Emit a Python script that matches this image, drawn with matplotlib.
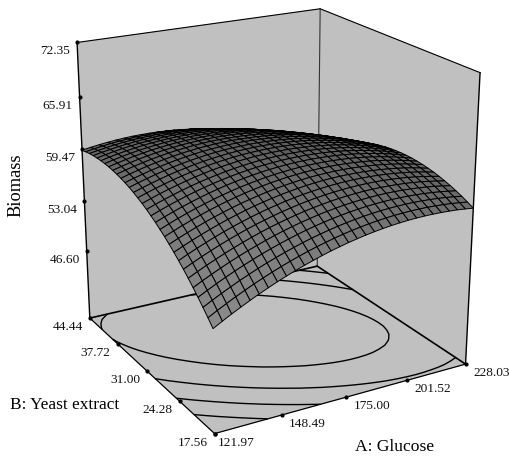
import numpy as np
import matplotlib
matplotlib.use('Agg')
import matplotlib.pyplot as plt
from mpl_toolkits.mplot3d import proj3d
from mpl_toolkits.mplot3d.art3d import Poly3DCollection

plt.rcParams['font.family'] = ['Liberation Serif', 'DejaVu Serif']

a_ticks = [121.97, 148.49, 175.00, 201.52, 228.03]
b_ticks = [17.56, 24.28, 31.00, 37.72, 44.44]
z_ticks = [46.60, 53.04, 59.47, 65.91, 72.35]
z_floor = 37.672
contour_levels = [52.95, 55.25, 57.45, 59.68]

# Biomass: one row per Yeast extract step (low to high),
# one column per Glucose step (low to high)
biomass = [
[49.85,50.43,50.99,51.52,52.03,52.52,52.98,53.42,53.83,54.22,54.58,54.92,55.24,55.54,55.80,56.05,56.27,56.47,56.64,56.79,56.92,57.02,57.10,57.15,57.18,57.18,57.16,57.12,57.06,56.96,56.85],
[50.62,51.19,51.73,52.25,52.74,53.22,53.66,54.09,54.49,54.86,55.21,55.54,55.84,56.12,56.38,56.61,56.82,57.00,57.16,57.30,57.41,57.50,57.56,57.60,57.62,57.61,57.57,57.52,57.44,57.33,57.20],
[51.35,51.91,52.44,52.94,53.43,53.88,54.32,54.73,55.11,55.47,55.81,56.13,56.42,56.68,56.92,57.14,57.33,57.50,57.65,57.77,57.87,57.94,57.99,58.02,58.02,58.00,57.95,57.88,57.79,57.67,57.53],
[52.06,52.60,53.12,53.61,54.08,54.52,54.94,55.34,55.71,56.06,56.38,56.68,56.96,57.21,57.44,57.64,57.82,57.98,58.11,58.22,58.30,58.36,58.40,58.41,58.40,58.36,58.30,58.22,58.11,57.98,57.82],
[52.73,53.26,53.76,54.24,54.70,55.13,55.53,55.91,56.27,56.61,56.92,57.20,57.47,57.70,57.92,58.11,58.27,58.42,58.53,58.63,58.70,58.75,58.77,58.77,58.74,58.69,58.62,58.52,58.40,58.25,58.08],
[53.38,53.89,54.38,54.84,55.28,55.70,56.09,56.46,56.81,57.13,57.42,57.69,57.94,58.17,58.37,58.54,58.70,58.83,58.93,59.01,59.07,59.10,59.11,59.09,59.05,58.99,58.90,58.79,58.65,58.49,58.31],
[53.99,54.49,54.96,55.41,55.84,56.24,56.62,56.98,57.31,57.61,57.90,58.16,58.39,58.60,58.79,58.95,59.09,59.20,59.29,59.36,59.40,59.42,59.42,59.39,59.33,59.26,59.16,59.03,58.88,58.71,58.51],
[54.57,55.06,55.52,55.95,56.37,56.76,57.12,57.46,57.78,58.07,58.34,58.58,58.81,59.00,59.18,59.32,59.45,59.55,59.63,59.68,59.71,59.71,59.69,59.65,59.58,59.49,59.38,59.24,59.08,58.89,58.68],
[55.12,55.59,56.04,56.46,56.86,57.24,57.59,57.91,58.22,58.50,58.75,58.98,59.19,59.37,59.53,59.67,59.78,59.87,59.93,59.97,59.98,59.97,59.94,59.88,59.80,59.70,59.57,59.42,59.24,59.04,58.81],
[55.64,56.10,56.53,56.94,57.33,57.69,58.02,58.34,58.63,58.89,59.13,59.35,59.54,59.71,59.86,59.98,60.08,60.15,60.20,60.23,60.23,60.20,60.16,60.09,59.99,59.87,59.73,59.56,59.37,59.16,58.92],
[56.13,56.57,56.99,57.39,57.76,58.11,58.43,58.73,59.00,59.26,59.48,59.69,59.87,60.02,60.15,60.26,60.34,60.40,60.44,60.45,60.44,60.40,60.34,60.26,60.15,60.02,59.86,59.68,59.48,59.25,58.99],
[56.58,57.01,57.42,57.80,58.16,58.49,58.80,59.09,59.35,59.59,59.80,59.99,60.16,60.30,60.42,60.51,60.58,60.63,60.65,60.65,60.62,60.57,60.50,60.40,60.28,60.13,59.96,59.76,59.55,59.30,59.04],
[57.01,57.43,57.82,58.19,58.53,58.85,59.15,59.42,59.67,59.89,60.09,60.27,60.42,60.55,60.65,60.73,60.79,60.82,60.83,60.81,60.77,60.71,60.62,60.51,60.37,60.21,60.03,59.82,59.59,59.33,59.05],
[57.40,57.81,58.18,58.54,58.87,59.18,59.46,59.72,59.95,60.16,60.35,60.51,60.65,60.76,60.85,60.92,60.96,60.98,60.97,60.94,60.89,60.81,60.71,60.58,60.43,60.26,60.06,59.84,59.59,59.32,59.03],
[57.77,58.16,58.52,58.86,59.18,59.47,59.74,59.98,60.20,60.40,60.57,60.72,60.85,60.95,61.02,61.07,61.10,61.11,61.09,61.04,60.98,60.89,60.77,60.63,60.47,60.28,60.07,59.83,59.57,59.29,58.98],
[58.10,58.47,58.83,59.15,59.45,59.73,59.99,60.22,60.43,60.61,60.77,60.90,61.01,61.10,61.16,61.20,61.21,61.21,61.17,61.11,61.03,60.93,60.80,60.65,60.47,60.27,60.04,59.79,59.52,59.22,58.90],
[58.40,58.76,59.10,59.41,59.70,59.97,60.21,60.42,60.62,60.79,60.93,61.05,61.15,61.22,61.27,61.29,61.30,61.27,61.23,61.15,61.06,60.94,60.80,60.63,60.44,60.22,59.98,59.72,59.43,59.12,58.79],
[58.67,59.02,59.34,59.64,59.92,60.17,60.39,60.60,60.78,60.93,61.06,61.17,61.25,61.31,61.35,61.36,61.34,61.31,61.25,61.16,61.05,60.92,60.76,60.58,60.38,60.15,59.90,59.62,59.32,58.99,58.64],
[58.91,59.24,59.55,59.84,60.10,60.34,60.55,60.74,60.90,61.05,61.16,61.26,61.33,61.37,61.39,61.39,61.36,61.31,61.24,61.14,61.02,60.87,60.70,60.50,60.29,60.04,59.78,59.49,59.17,58.83,58.47],
[59.12,59.44,59.73,60.00,60.25,60.48,60.68,60.85,61.00,61.13,61.23,61.31,61.37,61.40,61.41,61.39,61.35,61.29,61.20,61.09,60.95,60.79,60.60,60.40,60.16,59.91,59.63,59.32,58.99,58.64,58.26],
[59.29,59.60,59.88,60.14,60.37,60.58,60.77,60.93,61.07,61.18,61.27,61.34,61.38,61.40,61.39,61.36,61.31,61.23,61.13,61.00,60.85,60.68,60.48,60.26,60.01,59.74,59.44,59.13,58.78,58.42,58.03],
[59.44,59.73,60.00,60.24,60.46,60.66,60.83,60.98,61.10,61.20,61.28,61.33,61.36,61.36,61.34,61.30,61.23,61.14,61.02,60.88,60.72,60.53,60.32,60.08,59.82,59.54,59.23,58.90,58.54,58.16,57.76],
[59.55,59.83,60.09,60.32,60.52,60.71,60.86,61.00,61.11,61.19,61.26,61.29,61.31,61.30,61.27,61.21,61.13,61.02,60.89,60.74,60.56,60.36,60.13,59.88,59.61,59.31,58.99,58.64,58.27,57.88,57.46],
[59.64,59.90,60.14,60.36,60.55,60.72,60.86,60.98,61.08,61.15,61.20,61.23,61.23,61.20,61.16,61.08,60.99,60.87,60.73,60.56,60.37,60.15,59.91,59.65,59.36,59.05,58.71,58.35,57.97,57.56,57.13],
[59.69,59.94,60.17,60.37,60.55,60.70,60.83,60.94,61.02,61.08,61.12,61.13,61.11,61.08,61.02,60.93,60.82,60.69,60.53,60.35,60.14,59.91,59.66,59.38,59.08,58.76,58.41,58.03,57.64,57.22,56.77],
[59.71,59.95,60.16,60.35,60.51,60.66,60.77,60.87,60.93,60.98,61.00,61.00,60.97,60.92,60.84,60.74,60.62,60.47,60.30,60.11,59.89,59.65,59.39,59.09,58.77,58.43,58.07,57.68,57.27,56.84,56.38],
[59.70,59.92,60.12,60.30,60.45,60.58,60.68,60.76,60.81,60.85,60.85,60.84,60.79,60.73,60.64,60.53,60.39,60.23,60.05,59.84,59.60,59.35,59.07,58.76,58.43,58.08,57.70,57.30,56.88,56.43,55.95],
[59.66,59.87,60.05,60.22,60.35,60.47,60.56,60.62,60.66,60.68,60.67,60.64,60.59,60.51,60.41,60.28,60.13,59.95,59.76,59.53,59.29,59.02,58.72,58.40,58.06,57.69,57.30,56.89,56.45,55.99,55.50],
[59.59,59.78,59.95,60.10,60.23,60.33,60.40,60.45,60.48,60.48,60.46,60.42,60.35,60.26,60.14,60.00,59.84,59.65,59.44,59.20,58.94,58.65,58.35,58.01,57.66,57.28,56.87,56.44,55.99,55.51,55.01],
[59.48,59.67,59.82,59.96,60.07,60.15,60.22,60.25,60.27,60.26,60.22,60.16,60.08,59.98,59.85,59.69,59.51,59.31,59.08,58.83,58.56,58.26,57.94,57.59,57.22,56.83,56.41,55.97,55.50,55.01,54.50],
[59.35,59.52,59.66,59.78,59.88,59.95,60.00,60.02,60.02,60.00,59.95,59.88,59.78,59.66,59.52,59.35,59.16,58.94,58.70,58.44,58.15,57.84,57.50,57.14,56.76,56.35,55.92,55.46,54.98,54.48,53.95],
]

amin, amax = a_ticks[0], a_ticks[-1]
bmin, bmax = b_ticks[0], b_ticks[-1]
ztop = z_ticks[-1]

Z = np.array(biomass)
a_grid = np.linspace(amin, amax, Z.shape[1])
b_grid = np.linspace(bmin, bmax, Z.shape[0])
X, Y = np.meshgrid(a_grid, b_grid)

W, H = 510, 458
fig = plt.figure(figsize=(W/100, H/100), dpi=100, facecolor='white')
ax = fig.add_axes([0.0398, 0.0063, 0.9601, 1.0692], projection='3d')
ax.set_xlim(amin, amax, view_margin=0)
ax.set_ylim(bmin, bmax, view_margin=0)
ax.set_zlim(z_floor, ztop, view_margin=0)
ax.view_init(elev=20.903, azim=-119.672)
ax.set_proj_type('persp', focal_length=0.585)
ax.set_box_aspect((1, 1.009, 1.067))
ax.set_axis_off()
ax.computed_zorder = False

wall = '#C0C0C0'
walls = [[(amin,bmax,z_floor),(amax,bmax,z_floor),(amax,bmax,ztop),(amin,bmax,ztop)],
         [(amax,bmin,z_floor),(amax,bmax,z_floor),(amax,bmax,ztop),(amax,bmin,ztop)],
         [(amin,bmin,z_floor),(amax,bmin,z_floor),(amax,bmax,z_floor),(amin,bmax,z_floor)]]
ax.add_collection3d(Poly3DCollection(walls, facecolors=wall, edgecolors=wall, linewidths=0.3, zorder=1))
ax.contour(X, Y, Z, levels=contour_levels, zdir='z', offset=z_floor, colors='k', linewidths=1.0, zorder=2)

edges = [((amin,bmax,z_floor),(amin,bmax,ztop),1.0,'k'),((amin,bmax,ztop),(amax,bmax,ztop),0.8,'k'),
         ((amax,bmax,ztop),(amax,bmin,ztop),0.8,'k'),((amax,bmin,ztop),(amax,bmin,z_floor),1.0,'k'),
         ((amax,bmax,z_floor),(amax,bmax,ztop),0.8,'#333333'),((amin,bmax,z_floor),(amax,bmax,z_floor),1.2,'k'),
         ((amax,bmax,z_floor),(amax,bmin,z_floor),1.2,'k'),((amin,bmin,z_floor),(amax,bmin,z_floor),0.9,'k'),
         ((amin,bmin,z_floor),(amin,bmax,z_floor),0.9,'k')]
for e0, e1, lw, col in edges:
    ax.plot(*zip(e0, e1), color=col, lw=lw, zorder=3)
ax.plot([amin]*5, [bmax]*5, z_ticks, ls='', marker='o', ms=2, color='k', zorder=3)
ax.plot([amin]*5, b_ticks, [z_floor]*5, ls='', marker='o', ms=2, color='k', zorder=3)
ax.plot(a_ticks, [bmin]*5, [z_floor]*5, ls='', marker='o', ms=2, color='k', zorder=3)

# facet gray: lighter where the surface is steep, as in the reference
dzb, dza = np.gradient(Z)
mag = np.hypot(dza, dzb)
g = 90/255 + 48/255*np.clip(mag/mag.max(), 0, 1)
ax.plot_surface(X, Y, Z, rstride=1, cstride=1, facecolors=np.dstack([g, g, g]),
                edgecolor='k', linewidth=0.7, shade=False, zorder=4)

M = ax.get_proj()
def lab(x, y, z, txt, dx, dy, **kw):
    X2, Y2, _ = proj3d.proj_transform(x, y, z, M)
    ax.annotate(txt, xy=(X2, Y2), xytext=(dx*.72, -dy*.72), textcoords='offset points',
                ha='center', va='center', annotation_clip=False, **kw)
for zt in z_ticks:
    lab(amin, bmax, zt, f'{zt:.2f}', -22, 9, fontsize=9.6, color='#111111')
for bt in b_ticks:
    lab(amin, bt, z_floor, f'{bt:.2f}', -22, 9, fontsize=9.6, color='#111111')
for at in a_ticks:
    lab(at, bmin, z_floor, f'{at:.2f}', 26 if at > amin else 22, 9, fontsize=9.6, color='#111111')
fig.text(16/W, 1-185/H, 'Biomass', rotation=90, ha='center', va='center', fontsize=13.2)
fig.text(65/W, 1-405/H, 'B: Yeast extract', ha='center', va='center', fontsize=12.4)
fig.text(395/W, 1-447/H, 'A: Glucose', ha='center', va='center', fontsize=12.6)
fig.savefig('out.png', dpi=100)
